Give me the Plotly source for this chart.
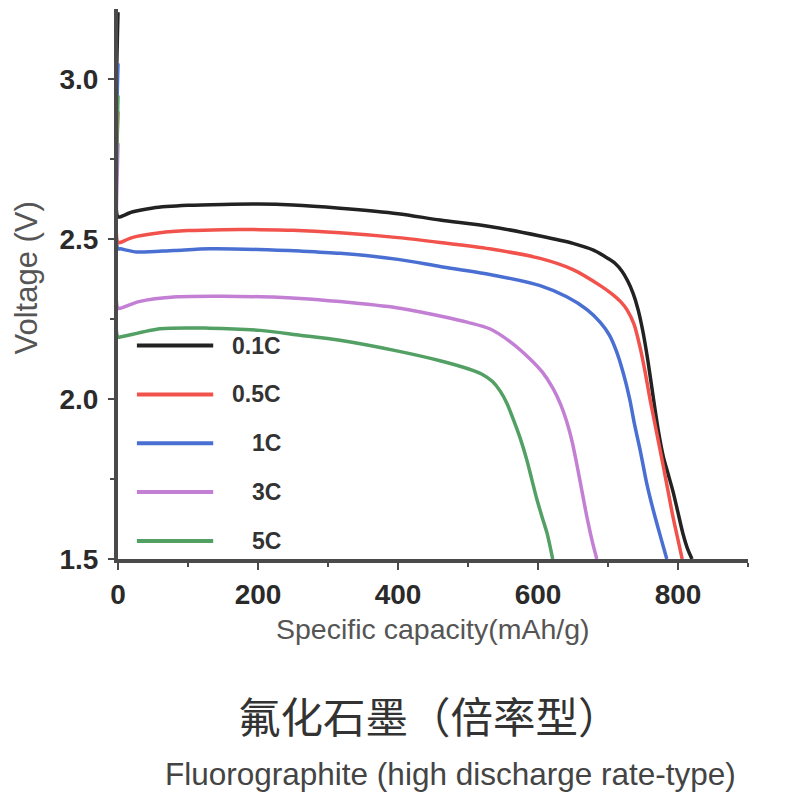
import plotly.graph_objects as go

# ---- data ----
series_names = ["0.1C", "0.5C", "1C", "3C", "5C"]
series_colors = ["#222222", "#f2524c", "#4a6fd2", "#c27fd4", "#52a064"]

cap_01C = [0, 0, 3, 20, 50, 100, 150, 200, 250, 317, 400, 460, 531, 603, 650, 680, 700, 710, 720, 728, 736, 743, 750, 757, 765, 772, 779, 786, 793, 800, 807, 814, 820]
volt_01C = [3.21, 2.57, 2.57, 2.585, 2.598, 2.606, 2.609, 2.61, 2.607, 2.597, 2.58, 2.56, 2.54, 2.51, 2.487, 2.465, 2.44, 2.425, 2.40, 2.37, 2.33, 2.28, 2.21, 2.12, 2.0, 1.9, 1.82, 1.765, 1.71, 1.645, 1.58, 1.53, 1.5]

cap_05C = [0, 0, 3, 20, 60, 100, 150, 203, 250, 317, 400, 460, 531, 603, 650, 689, 705, 718, 727, 737, 746, 753, 760, 770, 779, 786, 793, 800, 806]
volt_05C = [2.9, 2.49, 2.49, 2.505, 2.52, 2.527, 2.53, 2.53, 2.528, 2.52, 2.505, 2.49, 2.47, 2.44, 2.405, 2.355, 2.33, 2.305, 2.28, 2.235, 2.16, 2.085, 2.0, 1.89, 1.79, 1.71, 1.63, 1.56, 1.5]

cap_1C = [0, 0, 3, 27, 80, 131, 200, 260, 317, 400, 460, 531, 603, 641, 670, 689, 702, 712, 722, 731, 738, 746, 755, 765, 775, 784]
volt_1C = [3.05, 2.47, 2.47, 2.46, 2.465, 2.47, 2.468, 2.463, 2.456, 2.437, 2.415, 2.39, 2.355, 2.32, 2.28, 2.24, 2.2, 2.15, 2.08, 2.0, 1.92, 1.84, 1.74, 1.65, 1.57, 1.5]

cap_3C = [0, 0, 3, 30, 84, 150, 203, 260, 317, 400, 460, 500, 531, 560, 589, 606, 621, 632, 641, 649, 656, 663, 670, 677, 684]
volt_3C = [2.8, 2.284, 2.284, 2.305, 2.32, 2.322, 2.32, 2.315, 2.305, 2.285, 2.26, 2.24, 2.22, 2.18, 2.125, 2.085, 2.035, 1.985, 1.93, 1.865, 1.79, 1.71, 1.63, 1.56, 1.5]

cap_5C = [0, 0, 3, 60, 130, 203, 260, 317, 400, 460, 500, 520, 535, 546, 556, 565, 575, 584, 591, 598, 606, 613, 621]
volt_5C = [2.95, 2.194, 2.194, 2.22, 2.222, 2.215, 2.20, 2.184, 2.15, 2.12, 2.095, 2.078, 2.055, 2.025, 1.985, 1.935, 1.875, 1.81, 1.75, 1.69, 1.63, 1.58, 1.5]

capacities = [cap_01C, cap_05C, cap_1C, cap_3C, cap_5C]
voltages = [volt_01C, volt_05C, volt_1C, volt_3C, volt_5C]

x_ticks = [0, 200, 400, 600, 800]
y_ticks = [1.5, 2.0, 2.5, 3.0]
y_tick_text = ["1.5", "2.0", "2.5", "3.0"]

title_cn = "氟化石墨（倍率型）"
title_en = "Fluorographite (high discharge rate-type)"
x_title = "Specific capacity(mAh/g)"
y_title = "Voltage (V)"

# ---- figure ----
fig = go.Figure()
for name, color, xs, ys in zip(series_names, series_colors, capacities, voltages):
    fig.add_trace(go.Scatter(
        x=xs, y=ys, mode="lines", name=name,
        line=dict(color=color, width=3.5, shape="spline", smoothing=0.8),
        showlegend=False, hoverinfo="skip"))

tick_font = dict(family="Liberation Sans, Arial, sans-serif", size=28, color="#2a2a2a")

fig.update_xaxes(
    range=[0, 900], showline=True, linecolor="#4a4a4a", linewidth=4,
    tickmode="array", tickvals=x_ticks, ticktext=[f"<b>{v}</b>" for v in x_ticks],
    ticks="outside", ticklen=7, tickwidth=2, tickcolor="#4a4a4a",
    minor=dict(dtick=100, tick0=0, ticks="outside", ticklen=4, tickwidth=2, tickcolor="#4a4a4a"),
    showgrid=False, zeroline=False, tickfont=tick_font, ticklabelstandoff=0)
fig.update_yaxes(
    range=[1.5, 3.22], showline=True, linecolor="#4a4a4a", linewidth=4,
    tickmode="array", tickvals=y_ticks, ticktext=[f"<b>{t}</b>" for t in y_tick_text],
    ticks="outside", ticklen=6, tickwidth=2, tickcolor="#4a4a4a",
    minor=dict(dtick=0.25, tick0=1.5, ticks="outside", ticklen=4, tickwidth=2, tickcolor="#4a4a4a"),
    showgrid=False, zeroline=False, tickfont=tick_font, ticklabelstandoff=4)

# custom legend (long line samples, right-aligned labels)
leg_top = 0.388   # paper y of first entry
leg_step = 0.0888
for i, (name, color) in enumerate(zip(series_names, series_colors)):
    yy = leg_top - i * leg_step
    fig.add_shape(type="line", xref="x", yref="paper", x0=27, x1=136, y0=yy, y1=yy,
                  line=dict(color=color, width=4))
    fig.add_annotation(x=236, y=yy, xref="x", yref="paper", text=f"<b>{name}</b>",
                       showarrow=False, xanchor="right", yanchor="middle",
                       font=dict(family="Liberation Sans, Arial, sans-serif", size=23, color="#333333"))

# axis titles
fig.add_annotation(x=0.5, y=-0.128, xref="paper", yref="paper", text=x_title,
                   showarrow=False, xanchor="center", yanchor="middle", xshift=0,
                   font=dict(family="Liberation Sans, Arial, sans-serif", size=28.5, color="#555555"))
fig.add_annotation(x=0, y=0.51, xref="paper", yref="paper", text=y_title, textangle=-90,
                   showarrow=False, xanchor="center", yanchor="middle", xshift=-92,
                   font=dict(family="Liberation Sans, Arial, sans-serif", size=31, color="#555555"))

# captions
fig.add_annotation(x=0.5, y=-0.283, xref="paper", yref="paper", text=title_cn,
                   showarrow=False, xanchor="center", yanchor="middle", xshift=-4,
                   font=dict(family="Noto Sans CJK SC, sans-serif", size=42.5, color="#333333"))
fig.add_annotation(x=0.5, y=-0.39, xref="paper", yref="paper", text=title_en,
                   showarrow=False, xanchor="center", yanchor="middle", xshift=17,
                   font=dict(family="Liberation Sans, Arial, sans-serif", size=31.5, color="#444444"))

fig.update_layout(
    width=787, height=811,
    margin=dict(l=118, r=39, t=9, b=252),
    plot_bgcolor="white", paper_bgcolor="white",
    showlegend=False)

fig.write_html("out.html", config={"displayModeBar": False},
               post_script="document.body.style.margin='0';")
